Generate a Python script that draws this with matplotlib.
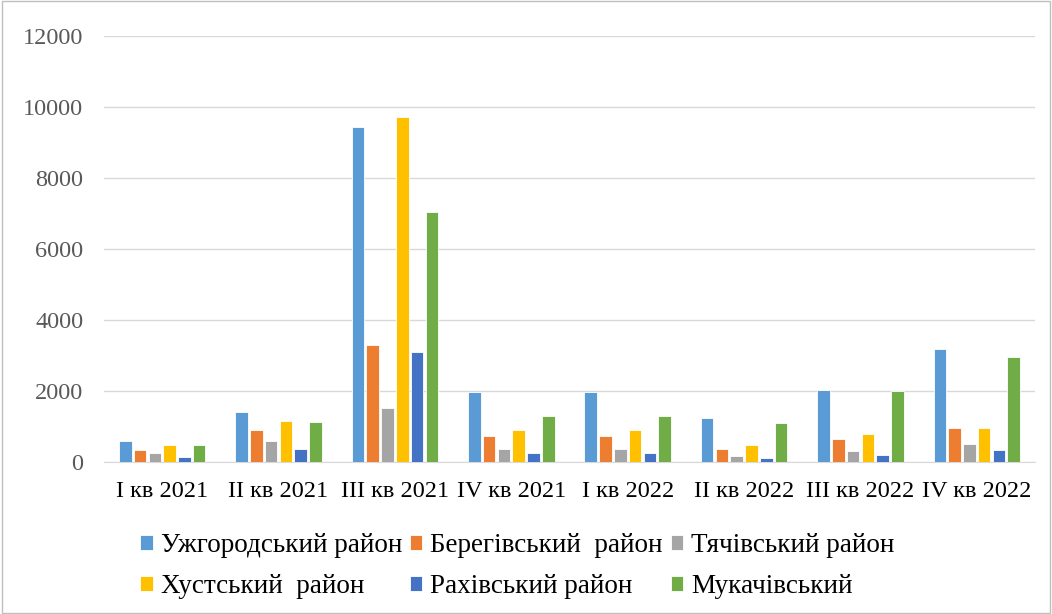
import matplotlib
matplotlib.use("Agg")
import matplotlib.pyplot as plt
import numpy as np
from matplotlib.patches import Rectangle

categories = ["I кв 2021", "II кв 2021", "III кв 2021", "IV кв 2021",
              "I кв 2022", "II кв 2022", "III кв 2022", "IV кв 2022"]
series_names = ["Ужгородський район", "Берегівський  район", "Тячівський район",
                "Хустський  район", "Рахівський район", "Мукачівський"]
uzhhorod = [590, 1400, 9440, 1980, 1980, 1230, 2040, 3180]
berehove = [340, 890, 3290, 720, 720, 380, 640, 950]
tiachiv = [240, 580, 1510, 380, 380, 170, 310, 510]
khust = [470, 1160, 9720, 890, 890, 470, 790, 950]
rakhiv = [140, 380, 3090, 240, 240, 100, 200, 350]
mukachevo = [470, 1130, 7040, 1300, 1300, 1100, 2010, 2960]
series = [uzhhorod, berehove, tiachiv, khust, rakhiv, mukachevo]
colors = ["#5b9bd5", "#ed7d31", "#a5a5a5", "#ffc000", "#4472c4", "#70ad47"]

plt.rcParams['font.family'] = ['Liberation Serif', 'DejaVu Serif']

fig = plt.figure(figsize=(10.52, 6.14), dpi=100)
ax = fig.add_axes([104/1052, 1-462/614, (1035-104)/1052, (462-36)/614])

x = np.arange(len(categories))
step = 0.127
width = 0.108
for i, (vals, c, name) in enumerate(zip(series, colors, series_names)):
    ax.bar(x + (i - 2.5) * step, vals, width=width, color=c, label=name,
           edgecolor="white", linewidth=0.6, zorder=3)

ax.set_xlim(-0.5, len(categories) - 0.5)
ax.set_ylim(0, 12000)
ax.set_yticks(range(0, 12001, 2000))
ax.grid(axis="y", color="#d9d9d9", linewidth=1, zorder=0)
for s in ["top", "right", "left"]:
    ax.spines[s].set_visible(False)
ax.spines["bottom"].set_color("#d9d9d9")
ax.tick_params(axis="both", length=0)
ax.tick_params(axis="y", labelsize=17.5, labelcolor="#595959", pad=15)
ax.tick_params(axis="x", labelsize=17.5, labelcolor="black", pad=14)
ax.set_xticks(x)
ax.set_xticklabels(categories)

handles, labels = ax.get_legend_handles_labels()
order = [0, 3, 1, 4, 2, 5]
leg = fig.legend([handles[i] for i in order], [labels[i] for i in order],
                 loc="center", bbox_to_anchor=(0.492, 1-566/614),
                 ncol=3, frameon=False, fontsize=19.5, handlelength=0.45,
                 handleheight=0.45, handletextpad=0.3, columnspacing=0.3,
                 labelspacing=0.6)

fig.patches.append(Rectangle((0.002, 0.002), 0.996, 0.996, transform=fig.transFigure,
                             fill=False, edgecolor="#bfbfbf", linewidth=1))
fig.savefig("out.png", dpi=100)
